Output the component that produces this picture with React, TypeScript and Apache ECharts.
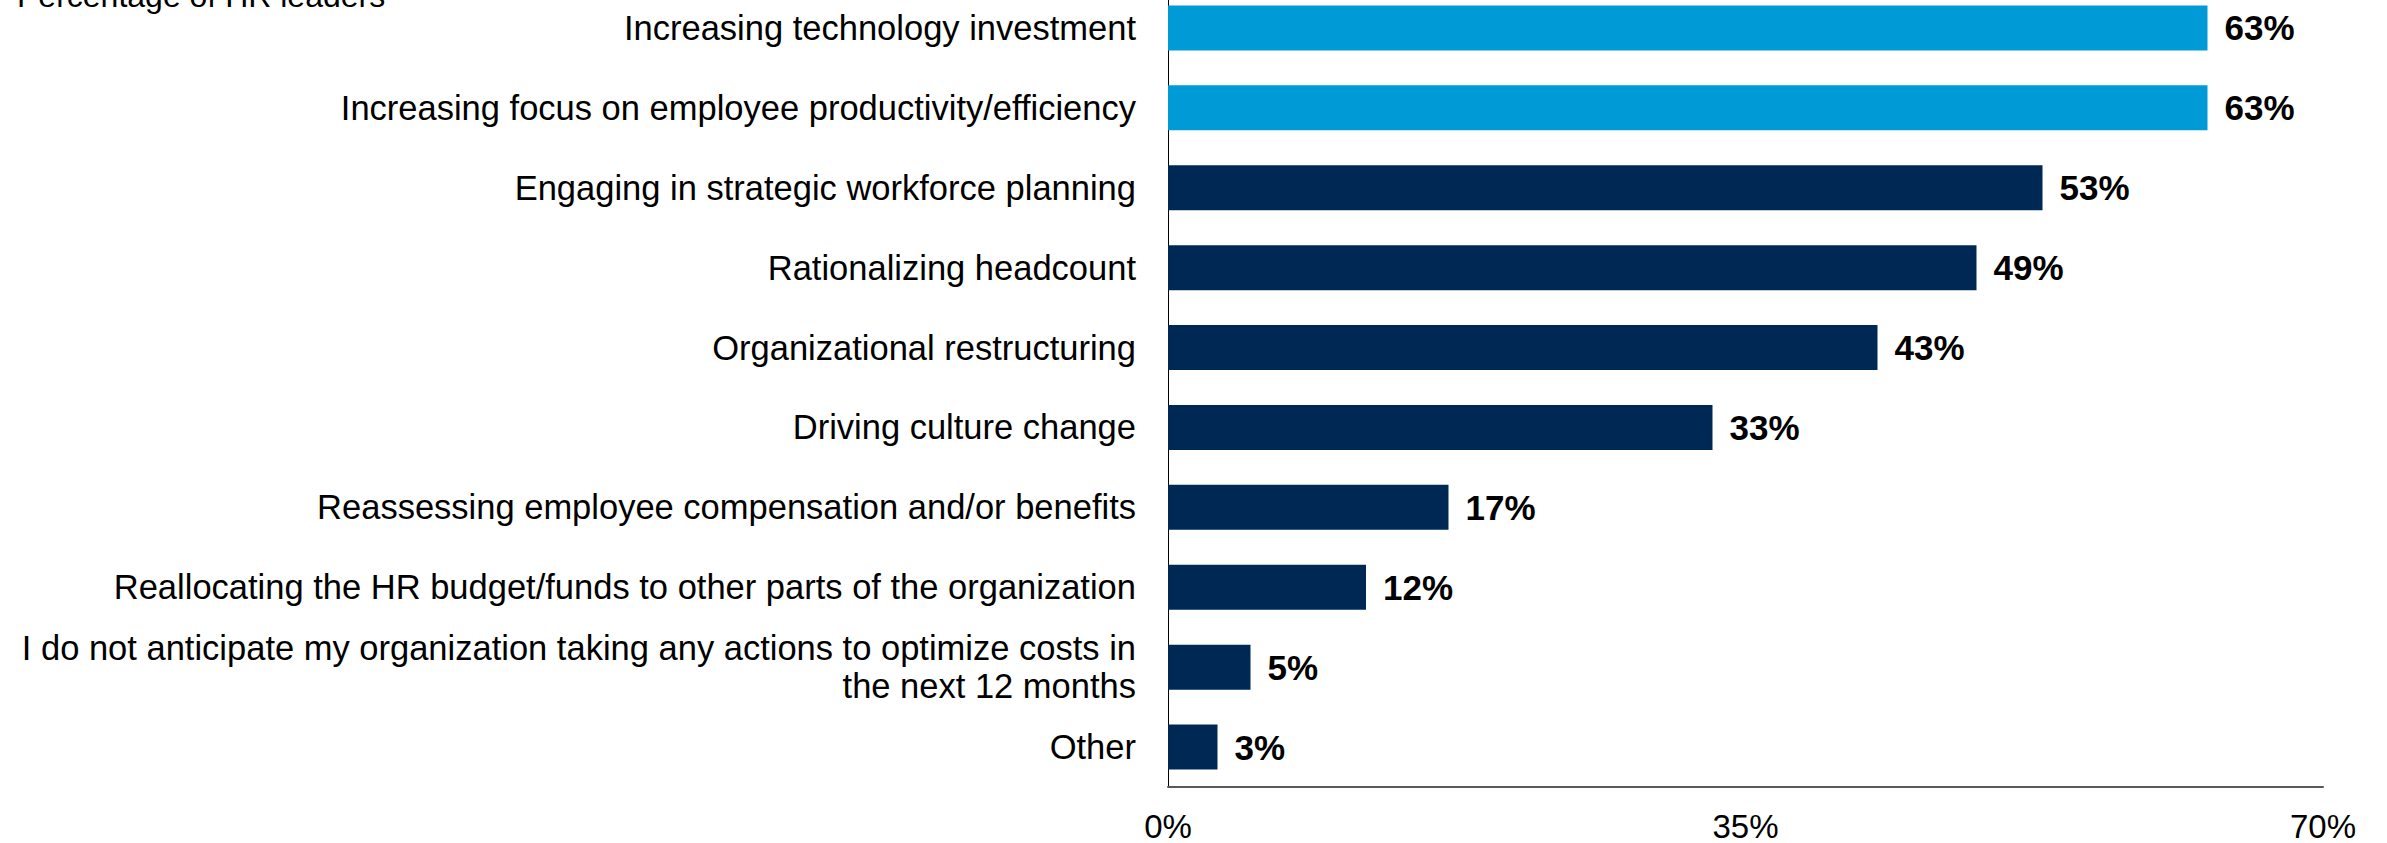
import React, { useEffect, useRef } from "react";
import * as echarts from "echarts";

const categories = [
  "Increasing technology investment",
  "Increasing focus on employee productivity/efficiency",
  "Engaging in strategic workforce planning",
  "Rationalizing headcount",
  "Organizational restructuring",
  "Driving culture change",
  "Reassessing employee compensation and/or benefits",
  "Reallocating the HR budget/funds to other parts of the organization",
  "I do not anticipate my organization taking any actions to optimize costs in\nthe next 12 months",
  "Other",
];
const values = [63, 63, 53, 49, 43, 33, 17, 12, 5, 3];
const highlighted = [true, true, false, false, false, false, false, false, false, false];
const xTicks = [0, 35, 70];
const title = "Percentage of HR leaders";

const LIGHT = "#009BD7";
const DARK = "#002855";
const FONT = "'Liberation Sans', Arial, sans-serif";
const SHIFT = 12;

export default function App() {
  const ref = useRef<HTMLDivElement>(null);
  useEffect(() => {
    if (!ref.current) return;
    const chart = echarts.init(ref.current, undefined, { renderer: "svg" });
    const cats = [...categories].reverse();
    const vals = [...values].reverse();
    const hl = [...highlighted].reverse();
    chart.setOption({
      animation: false,
      textStyle: { fontFamily: FONT },
      grid: { left: 1168, right: 64, top: 0, bottom: 56, containLabel: false },
      xAxis: {
        type: "value",
        min: xTicks[0],
        max: xTicks[xTicks.length - 1],
        interval: xTicks[1] - xTicks[0],
        splitLine: { show: false },
        axisTick: { show: false },
        axisLine: { show: true, lineStyle: { color: "#595959", width: 2 } },
        axisLabel: {
          formatter: "{value}%",
          color: "#000",
          fontSize: 33,
          lineHeight: 28,
          fontFamily: FONT,
          margin: 25,
        },
      },
      yAxis: {
        type: "category",
        data: cats,
        axisTick: { show: false },
        axisLine: { show: true, lineStyle: { color: "#000", width: 1 } },
        axisLabel: {
          color: "#000",
          fontSize: 34.5,
          fontFamily: FONT,
          margin: 32,
          align: "right",
          lineHeight: 38,
        },
      },
      series: [
        {
          type: "bar",
          barWidth: 45,
          data: vals.map((v, i) => ({
            value: v,
            itemStyle: { color: hl[i] ? LIGHT : DARK },
          })),
          label: {
            show: true,
            position: "right",
            distance: 17,
            formatter: "{c}%",
            color: "#000",
            fontSize: 35,
            fontWeight: "bold",
            fontFamily: FONT,
          },
        },
      ],
      graphic: [
        {
          type: "text",
          left: 17,
          top: SHIFT - 20,
          style: {
            text: title,
            fontSize: 32,
            fontFamily: FONT,
            fill: "#000",
          },
        },
      ],
    });
    return () => chart.dispose();
  }, []);
  return (
    <div
      ref={ref}
      style={{ position: "fixed", left: 0, top: -SHIFT, width: 2387, height: 843 + SHIFT, background: "#fff" }}
    />
  );
}
